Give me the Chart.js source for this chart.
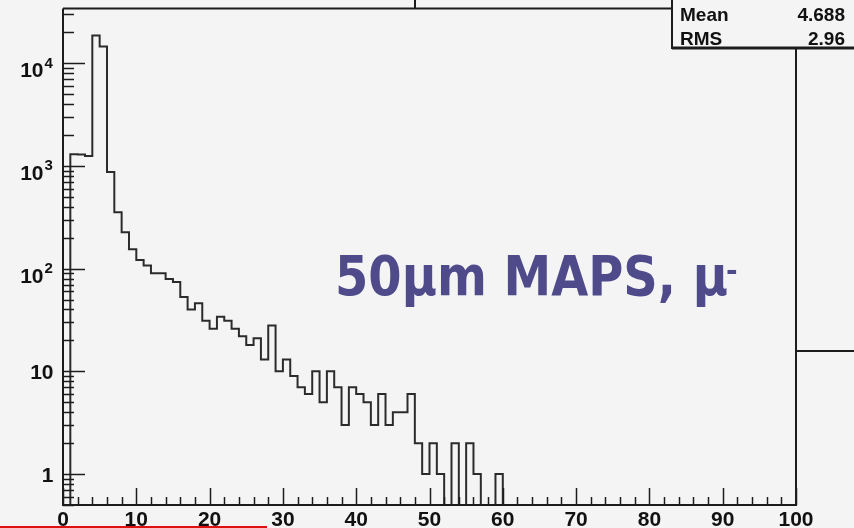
<!DOCTYPE html>
<html>
<head>
<meta charset="utf-8">
<script src="https://cdn.jsdelivr.net/npm/chart.js@4.4.0/dist/chart.umd.min.js"></script>
<style>
  html, body { margin: 0; padding: 0; background: #f4f4f4; }
  canvas { display: block; }
</style>
</head>
<body>
<canvas id="hist" width="854" height="528"></canvas>
<script>
// unit-wide bins, low edge of each bin
const binLow = [
  0, 1, 2, 3, 4, 5, 6, 7, 8, 9, 10, 11, 12, 13, 14, 15, 16, 17, 18, 19,
  20, 21, 22, 23, 24, 25, 26, 27, 28, 29, 30, 31, 32, 33, 34, 35, 36, 37, 38, 39,
  40, 41, 42, 43, 44, 45, 46, 47, 48, 49, 50, 51, 52, 53, 54, 55, 56, 57, 58, 59,
  60, 61, 62, 63, 64, 65, 66, 67, 68, 69, 70, 71, 72, 73, 74, 75, 76, 77, 78, 79,
  80, 81, 82, 83, 84, 85, 86, 87, 88, 89, 90, 91, 92, 93, 94, 95, 96, 97, 98, 99
];
const counts = [
  0, 1300, 1290, 1250, 18600, 14500, 870, 353, 226, 154,
  121, 107, 90, 90, 79, 74, 53, 40, 46, 31,
  26, 34, 31, 26, 22, 18, 21, 13, 28, 10,
  13, 9, 7, 6, 10, 5, 10, 7, 3, 7,
  6, 5, 3, 6, 3, 4, 4, 6, 2, 1,
  2, 1, 0, 2, 0, 2, 1, 0, 0, 1,
  0, 0, 0, 0, 0, 0, 0, 0, 0, 0,
  0, 0, 0, 0, 0, 0, 0, 0, 0, 0,
  0, 0, 0, 0, 0, 0, 0, 0, 0, 0,
  0, 0, 0, 0, 0, 0, 0, 0, 0, 0
];
const xEnd = 100;
const yMin = 0.5;
const yMax = 34000;

const xTickValues = [0, 10, 20, 30, 40, 50, 60, 70, 80, 90, 100];
const xTickLabels = ['0', '10', '20', '30', '40', '50', '60', '70', '80', '90', '100'];
const yTickValues = [1, 10, 100, 1000, 10000];
const yTickBase = ['1', '10', '10', '10', '10'];
const yTickExp = ['', '', '2', '3', '4'];

const statNames = ['Mean', 'RMS'];
const statValues = ['4.688', '2.96'];
const noteText = '50µm MAPS, µ';

// empty bins sit on the bottom of the log axis, as ROOT draws them
const points = binLow.map((x, i) => ({ x: x, y: counts[i] > 0 ? counts[i] : yMin }));
points.push({ x: xEnd, y: yMin });

const rootFrame = {
  id: 'rootFrame',
  beforeDraw(chart) {
    const ctx = chart.ctx;
    ctx.save();
    ctx.fillStyle = '#f4f4f4';
    ctx.fillRect(0, 0, chart.width, chart.height);
    ctx.restore();
  },
  afterDraw(chart) {
    const ctx = chart.ctx;
    const xs = chart.scales.x, ys = chart.scales.y;
    const { left, right, top, bottom } = chart.chartArea;
    ctx.save();
    ctx.strokeStyle = '#1c1c1c';
    ctx.lineWidth = 2;

    // frame
    ctx.beginPath();
    ctx.moveTo(left, top); ctx.lineTo(left, bottom); ctx.lineTo(right, bottom); ctx.lineTo(right, 48);
    ctx.moveTo(left, top); ctx.lineTo(672, top);
    ctx.stroke();

    // x ticks, major every 10 and minor every 2
    ctx.lineWidth = 1.5;
    ctx.beginPath();
    for (let v = 0; v <= 100; v += 2) {
      const px = Math.round(xs.getPixelForValue(v)) + 0.5;
      const len = v % 10 === 0 ? 17 : 8;
      ctx.moveTo(px, bottom); ctx.lineTo(px, bottom - len);
    }
    // y ticks on decades
    for (let e = -1; e <= 4; e++) {
      for (let m = 1; m <= 9; m++) {
        const v = m * Math.pow(10, e);
        if (v < ys.min || v > ys.max) continue;
        const py = Math.round(ys.getPixelForValue(v)) + 0.5;
        const len = m === 1 ? 22 : 11;
        ctx.moveTo(left, py); ctx.lineTo(left + len, py);
      }
    }
    ctx.stroke();

    // tick labels
    ctx.fillStyle = '#111';
    ctx.font = 'bold 21px "Liberation Sans", Arial, sans-serif';
    ctx.textAlign = 'center';
    ctx.textBaseline = 'alphabetic';
    xTickValues.forEach((v, i) => {
      ctx.fillText(xTickLabels[i], xs.getPixelForValue(v), 525.5);
    });
    yTickValues.forEach((v, i) => {
      const py = ys.getPixelForValue(v);
      ctx.textAlign = 'right';
      ctx.font = 'bold 21px "Liberation Sans", Arial, sans-serif';
      if (yTickExp[i]) {
        ctx.fillText(yTickBase[i], 43.5, py + 14);
        ctx.textAlign = 'left';
        ctx.font = 'bold 15px "Liberation Sans", Arial, sans-serif';
        ctx.fillText(yTickExp[i], 44.5, py + 4.5);
      } else {
        ctx.fillText(yTickBase[i], 53.5, py + 7.5);
      }
    });

    // stats box
    ctx.fillStyle = '#f4f4f4';
    ctx.fillRect(672, -4, 190, 52);
    ctx.lineWidth = 2;
    ctx.strokeRect(672, -4, 190, 52);
    ctx.lineWidth = 3;
    ctx.beginPath(); ctx.moveTo(672, 48); ctx.lineTo(854, 48); ctx.stroke();
    ctx.fillStyle = '#111';
    ctx.font = 'bold 19px "Liberation Sans", Arial, sans-serif';
    statNames.forEach((n, i) => {
      const by = 20.5 + i * 24;
      ctx.textAlign = 'left';
      ctx.fillText(n, 680, by);
      ctx.textAlign = 'right';
      ctx.fillText(statValues[i], 845, by);
    });

    // other pad borders
    ctx.lineWidth = 2;
    ctx.beginPath();
    ctx.moveTo(415, 0); ctx.lineTo(415, top);
    ctx.moveTo(right, 351); ctx.lineTo(854, 351);
    ctx.stroke();
    ctx.strokeStyle = '#e01010';
    ctx.beginPath(); ctx.moveTo(0, 527); ctx.lineTo(267, 527); ctx.stroke();

    // annotation
    ctx.fillStyle = '#4f4b8b';
    ctx.font = 'bold 55px "DejaVu Sans", sans-serif';
    ctx.textAlign = 'left';
    const w = ctx.measureText(noteText).width;
    ctx.save();
    ctx.translate(335, 295);
    ctx.scale(393 / w, 1);
    ctx.fillText(noteText, 0, 0);
    ctx.restore();
    ctx.font = 'bold 28px "DejaVu Sans", sans-serif';
    ctx.fillText('-', 726, 280);

    ctx.restore();
  }
};

new Chart(document.getElementById('hist'), {
  type: 'line',
  data: {
    datasets: [{
      data: points,
      stepped: 'before',
      borderColor: '#2b2b2b',
      borderWidth: 2,
      pointRadius: 0,
      fill: false,
      tension: 0
    }]
  },
  options: {
    responsive: false,
    animation: false,
    devicePixelRatio: 1,
    layout: { padding: { left: 63, right: 58, top: 8.5, bottom: 23 } },
    plugins: { legend: { display: false }, tooltip: { enabled: false } },
    scales: {
      x: {
        type: 'linear', min: 0, max: xEnd,
        display: false
      },
      y: {
        type: 'logarithmic', min: yMin, max: yMax,
        display: false
      }
    }
  },
  plugins: [rootFrame]
});
</script>
</body>
</html>
